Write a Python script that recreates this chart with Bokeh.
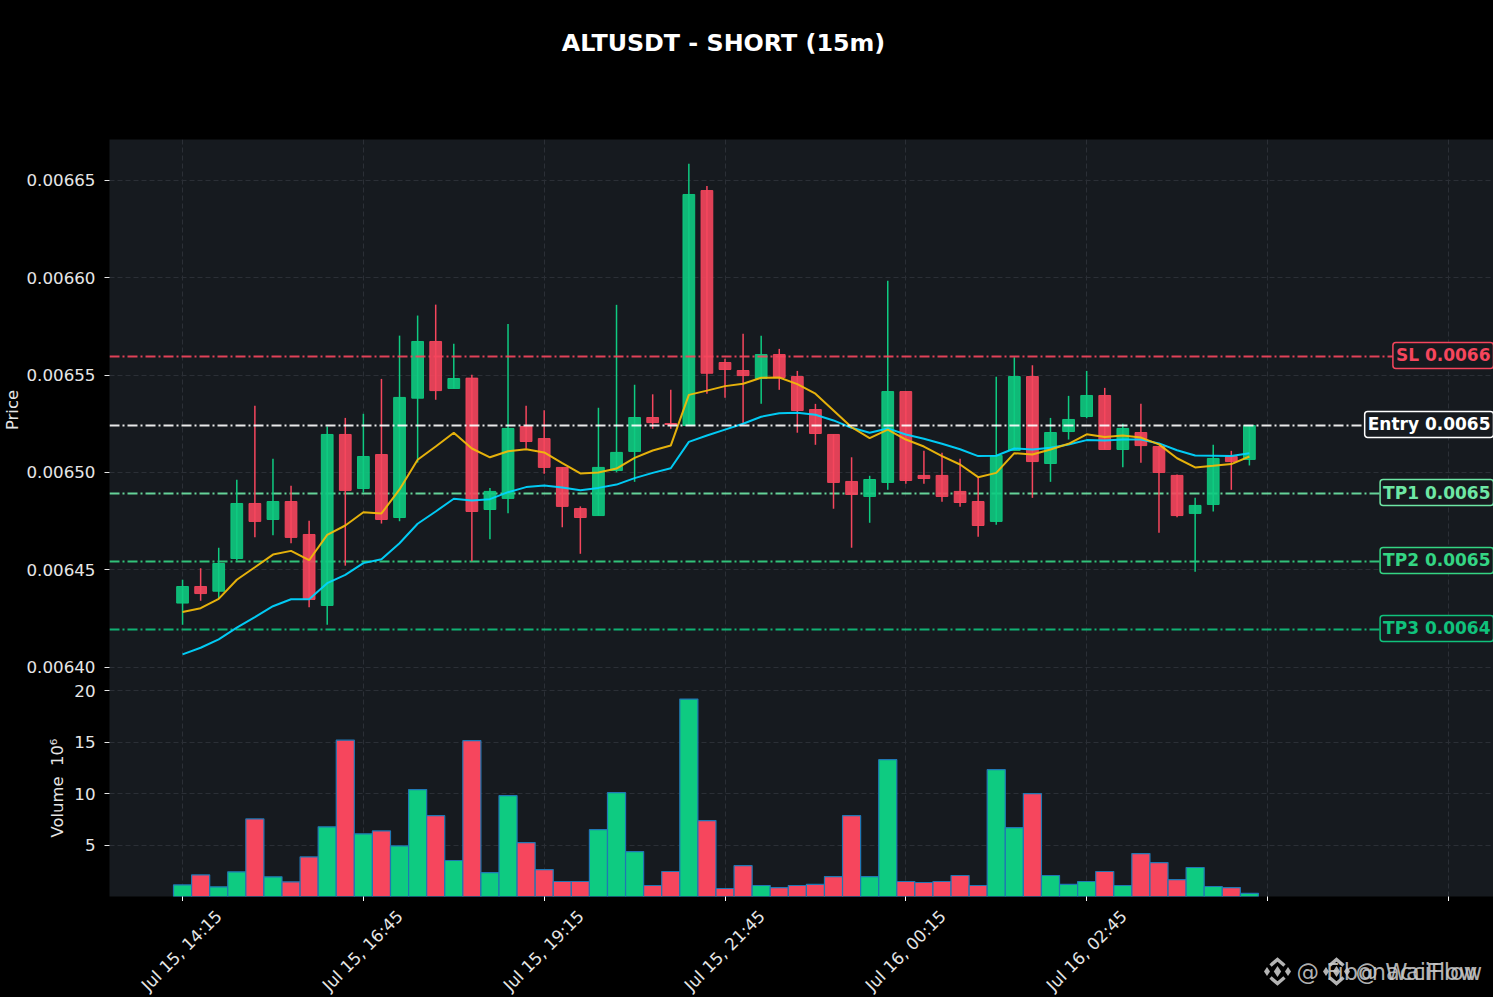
from bokeh.plotting import figure
from bokeh.layouts import column
from bokeh.models import Range1d, FixedTicker, Label, Span, NumeralTickFormatter, ColumnDataSource
from bokeh.embed import file_html
from bokeh.resources import INLINE

# prices are in units of 0.00001
UNIT = 1e-5
open_ = [643.30,644.15,643.91,645.59,648.41,647.59,648.51,646.82,643.18,651.95,649.18,650.92,647.69,653.81,656.72,654.31,654.84,648.10,648.67,652.36,
         651.74,650.26,648.15,647.79,650.10,651.08,652.82,652.51,652.41,664.46,655.64,655.23,654.82,656.05,654.92,653.23,651.95,649.54,648.77,649.49,
         654.15,649.85,649.85,649.03,648.51,647.49,651.13,654.92,650.46,652.10,652.87,653.95,651.18,652.05,651.33,649.85,647.90,648.36,650.82,650.67]
high = [644.50,645.09,646.14,649.63,653.42,650.70,649.32,647.52,652.36,652.80,653.01,654.80,657.02,658.05,658.61,656.60,655.01,649.21,657.62,653.42,
        653.19,650.26,648.26,653.32,658.60,654.50,654.01,654.24,665.83,664.70,655.83,657.11,657.01,656.34,655.21,653.52,651.95,650.78,649.83,659.83,
        654.15,651.11,651.01,650.70,649.76,654.91,655.91,655.50,652.80,653.93,655.21,654.34,652.50,653.52,651.33,649.90,648.70,651.42,651.11,652.41]
low = [642.19,643.42,643.54,645.49,646.68,646.78,646.37,643.09,642.19,645.22,648.97,647.38,647.50,650.51,653.73,654.31,645.45,646.58,647.91,651.23,
       649.93,647.19,645.83,647.79,650.01,649.52,652.24,652.24,652.41,654.04,653.83,652.50,653.52,654.24,652.04,651.42,648.14,646.14,647.42,649.11,
       649.42,649.42,648.50,648.24,646.70,647.32,651.13,648.70,649.52,651.69,652.78,651.18,650.27,650.50,646.91,647.71,644.91,648.00,649.11,650.36]
close = [644.15,643.79,645.33,648.41,647.49,648.51,646.67,643.49,651.95,649.08,650.82,647.59,653.85,656.72,654.20,654.82,648.00,649.03,652.26,651.59,
         650.26,648.26,647.69,650.26,651.03,652.82,652.56,652.46,664.26,655.09,655.28,654.97,656.05,654.87,653.18,652.00,649.49,648.87,649.64,654.15,
         649.59,649.69,648.77,648.46,647.28,650.87,654.92,650.56,652.05,652.72,653.95,651.18,652.26,651.38,650.00,647.79,648.31,650.72,650.56,652.41]
ma_fast = [642.84,643.04,643.52,644.50,645.14,645.79,645.98,645.50,646.80,647.28,647.96,647.90,649.13,650.65,651.33,652.04,651.23,650.78,651.09,651.19,
           651.03,650.48,649.95,650.00,650.20,650.75,651.13,651.38,653.98,654.20,654.43,654.55,654.86,654.87,654.53,654.04,653.18,652.32,651.76,652.20,
           651.69,651.33,650.84,650.41,649.76,649.98,650.99,650.92,651.18,651.47,651.96,651.82,651.90,651.79,651.44,650.73,650.26,650.34,650.43,650.82]
ma_slow = [640.67,641.01,641.44,642.04,642.58,643.14,643.50,643.50,644.32,644.75,645.35,645.55,646.37,647.37,648.00,648.65,648.56,648.63,648.99,649.25,
           649.33,649.23,649.09,649.21,649.38,649.71,649.98,650.22,651.57,651.90,652.20,652.50,652.86,653.04,653.06,652.96,652.67,652.29,652.04,652.26,
           651.95,651.73,651.47,651.19,650.84,650.86,651.23,651.18,651.27,651.44,651.66,651.64,651.69,651.69,651.49,651.14,650.87,650.86,650.84,650.99]
volume = [1.13,2.10,0.94,2.40,7.54,1.91,1.43,3.85,6.77,15.2,6.09,6.38,4.92,10.4,7.86,3.50,15.15,2.33,9.80,5.24,
          2.62,1.46,1.46,6.50,10.1,4.37,1.07,2.43,19.2,7.38,0.78,3.00,1.07,0.87,1.07,1.17,1.94,7.86,1.94,13.3,
          1.46,1.36,1.46,2.04,1.07,12.33,6.70,10.0,2.04,1.17,1.46,2.43,1.07,4.17,3.30,1.65,2.82,0.97,0.87,0.3]

tick_pos = [0, 10, 20, 30, 40, 50, 60, 70]
tick_labels = ["Jul 15, 14:15", "Jul 15, 16:45", "Jul 15, 19:15", "Jul 15, 21:45", "Jul 16, 00:15", "Jul 16, 02:45"]
tick_label_sx = [181, 362, 543, 724, 905, 1086]
price_ticks = [0.0064, 0.00645, 0.0065, 0.00655, 0.0066, 0.00665]
vol_ticks = [5, 10, 15, 20]
levels = [("SL 0.0066", 0.0065595, "#F6465D", True),
          ("Entry 0.0065", 0.0065241, "#FFFFFF", True),
          ("TP1 0.0065", 0.0064892, "#6EE7A5", False),
          ("TP2 0.0065", 0.0064544, "#34D583", False),
          ("TP3 0.0064", 0.0064195, "#10C27C", False)]

GREEN, RED = "#0ECB81", "#F6465D"
PANEL = "#161A1F"
GRID = "#2B2F36"
TXT = "#E6E6E6"
FS = "16.7px"
x = list(range(len(close)))
cols = [GREEN if c >= o else RED for o, c in zip(open_, close)]
src = ColumnDataSource(dict(
    x=x, hi=[v * UNIT for v in high], lo=[v * UNIT for v in low],
    top=[max(o, c) * UNIT for o, c in zip(open_, close)],
    bot=[min(o, c) * UNIT for o, c in zip(open_, close)],
    fast=[v * UNIT for v in ma_fast], slow=[v * UNIT for v in ma_slow],
    vol=volume, col=cols))

x_range = Range1d(-4.04, 72.5)

def style(p, ticks, standoff):
    p.background_fill_color = PANEL
    p.border_fill_alpha = 0
    p.outline_line_color = None
    p.min_border_left = 109
    p.min_border_right = 0
    for g in (p.xgrid[0], p.ygrid[0]):
        g.grid_line_color = GRID
        g.grid_line_dash = "5 3"
        g.grid_line_width = 1
    p.xgrid[0].ticker = FixedTicker(ticks=tick_pos)
    p.ygrid[0].ticker = FixedTicker(ticks=ticks)
    ax = p.yaxis[0]
    ax.ticker = FixedTicker(ticks=ticks)
    ax.axis_line_color = None
    ax.major_tick_line_color = TXT
    ax.major_tick_out = 5
    ax.major_tick_in = 0
    ax.minor_tick_line_color = None
    ax.major_label_text_color = TXT
    ax.major_label_text_font = "DejaVu Sans"
    ax.major_label_text_font_size = FS
    ax.major_label_standoff = 9
    ax.axis_label_text_color = TXT
    ax.axis_label_text_font = "DejaVu Sans"
    ax.axis_label_text_font_style = "normal"
    ax.axis_label_text_font_size = "16.4px"
    ax.axis_label_standoff = standoff

def blank(height, yr):
    f = figure(width=1493, height=height, x_range=Range1d(109, 1493), y_range=Range1d(*yr),
               x_axis_location=None, y_axis_location=None,
               output_backend="svg", toolbar_location=None, tools="")
    f.background_fill_alpha = 0
    f.border_fill_alpha = 0
    f.outline_line_color = None
    f.min_border = 0
    f.min_border_left = 109
    f.min_border_right = 0
    f.grid.visible = False
    return f

header = blank(139, (139, 0))
header.add_layout(Label(x=723, y=42.5, text="ALTUSDT - SHORT (15m)", text_align="center", text_baseline="middle",
                        text_color="#FFFFFF", text_font="DejaVu Sans", text_font_style="bold", text_font_size="23.8px"))

p = figure(width=1493, height=541, x_range=x_range, y_range=Range1d(0.0063933, 0.0066708),
           output_backend="svg", toolbar_location=None, tools="")
style(p, price_ticks, 1)
p.min_border_top = 0
p.min_border_bottom = 0
p.xaxis.visible = False
p.yaxis[0].axis_label = "Price"
p.yaxis[0].formatter = NumeralTickFormatter(format="0.00000")

for name, val, c, on_top in levels:
    if not on_top:
        p.add_layout(Span(location=val, dimension="width", line_color=c, line_width=2,
                          line_dash="10 3 2 3", line_alpha=0.9, level="underlay"))

p.segment("x", "hi", "x", "lo", source=src, line_color="col", line_width=1.5)
p.vbar("x", 0.65, "top", "bot", source=src, fill_color="col", line_color="col", fill_alpha=0.9, line_alpha=0.9, line_width=1)

for name, val, c, on_top in levels:
    if on_top:
        p.add_layout(Span(location=val, dimension="width", line_color=c, line_width=2,
                          line_dash="10 3 2 3", line_alpha=0.9, level="glyph"))

p.line("x", "slow", source=src, line_color="#00D4FF", line_width=2, line_alpha=0.95)
p.line("x", "fast", source=src, line_color="#F0B90B", line_width=2, line_alpha=0.95)

for name, val, c, _ in levels:
    p.add_layout(Label(x=72.5, y=val, y_offset=1, text=name, text_align="right", text_baseline="middle",
                       text_color=c, text_font="DejaVu Sans", text_font_style="bold", text_font_size="17px",
                       background_fill_color=PANEL, border_line_color=c, border_line_width=1.5,
                       padding=3, border_radius=3))

v = figure(width=1493, height=222, x_range=x_range, y_range=Range1d(0, 21.1),
           output_backend="svg", toolbar_location=None, tools="",
           styles={"margin-top": "-1px"})
style(v, vol_ticks, 4)
v.min_border_top = 0
v.min_border_bottom = 5
v.yaxis[0].axis_label = "Volume\u00a0\u00a010⁶"
ax = v.xaxis[0]
ax.ticker = FixedTicker(ticks=tick_pos)
ax.axis_line_color = None
ax.major_tick_line_color = "#FFFFFF"
ax.major_tick_out = 5
ax.major_tick_in = 0
ax.minor_tick_line_color = None
ax.major_label_text_font_size = "0px"
ax.major_label_standoff = 0
ax.major_label_text_color = None

v.vbar("x", 1.0, "vol", 0, source=src, fill_color="col", line_color="#1F77B4", line_width=1.2)

footer = blank(96, (997, 901))
for sx, lab in zip(tick_label_sx, tick_labels):
    footer.add_layout(Label(x=sx, y=950, text=lab, angle=45, angle_units="deg",
                            text_align="center", text_baseline="middle",
                            text_color=TXT, text_font="DejaVu Sans", text_font_size=FS))

WM = "#C8C8C8"
WY = 971
for cx in (1277, 1336):
    footer.scatter([cx, cx - 10.5, cx + 10.5], [WY, WY, WY], marker="diamond", size=[11, 9, 9],
                   fill_color=WM, line_color=None, fill_alpha=0.9)
    footer.multi_line([[cx - 7, cx, cx + 7], [cx - 7, cx, cx + 7]],
                      [[WY - 6, WY - 12, WY - 6], [WY + 6, WY + 12, WY + 6]],
                      line_color=WM, line_width=3.5, line_alpha=0.9, line_join="miter")
for xx, txt in [(1296, "@ FibonacciFlow"), (1355, "@ WaiFlow")]:
    footer.add_layout(Label(x=xx, y=WY, text=txt, text_align="left", text_baseline="middle",
                            text_color=WM, text_alpha=0.9, text_font="DejaVu Sans", text_font_size="22.5px"))

root = column(header, p, v, footer, spacing=0,
              styles={"position": "fixed", "left": "0px", "top": "0px", "background": "#000000"})
open("out.html", "w").write(file_html(root, INLINE))
